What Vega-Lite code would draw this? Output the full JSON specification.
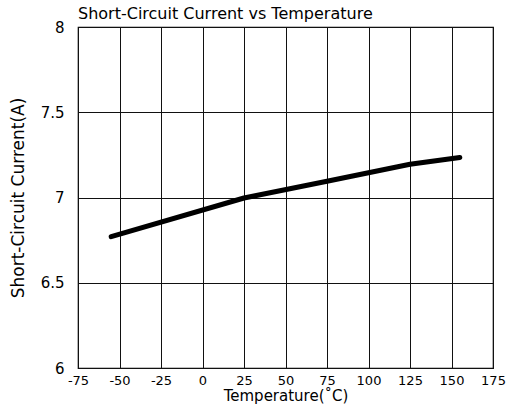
{
  "$schema": "https://vega.github.io/schema/vega-lite/v6.json",
  "autosize": "none",
  "width": 415,
  "height": 341,
  "padding": {"left": 78, "top": 27, "right": 13, "bottom": 40},
  "background": "white",
  "config": {
    "font": "DejaVu Sans",
    "view": {"stroke": "#000", "strokeWidth": 1.2},
    "axis": {"grid": true, "gridColor": "#111", "gridOpacity": 1, "gridWidth": 1, "domain": false, "ticks": false, "labelColor": "#000", "titleColor": "#000", "labelFont": "DejaVu Sans", "titleFont": "DejaVu Sans", "titleFontWeight": "normal"}
  },
  "title": {"text": "Short-Circuit Current vs Temperature", "anchor": "start", "frame": "group", "fontSize": 16, "fontWeight": "normal", "font": "DejaVu Sans", "color": "#000", "offset": 6, "baseline": "top", "dy": 8},
  "data": {"values": [
    {"temp": -55, "current": 6.77},
    {"temp": 25, "current": 6.997},
    {"temp": 75, "current": 7.095},
    {"temp": 125, "current": 7.195},
    {"temp": 155, "current": 7.235}
  ]},
  "mark": {"type": "line", "color": "#000", "strokeWidth": 5, "strokeCap": "round", "strokeJoin": "round"},
  "encoding": {
    "x": {"field": "temp", "type": "quantitative", "scale": {"domain": [-75, 175], "nice": false, "zero": false},
      "axis": {"values": [-75, -50, -25, 0, 25, 50, 75, 100, 125, 150, 175], "labelExpr": "'' + datum.value", "labelFontSize": 13, "labelPadding": 6, "title": "Temperature(˚C)", "titleFontSize": 15, "titlePadding": 1, "labelFlush": false, "labelOverlap": false}},
    "y": {"field": "current", "type": "quantitative", "scale": {"domain": [6, 8], "nice": false, "zero": false},
      "axis": {"values": [6, 6.5, 7, 7.5, 8], "format": "~g", "labelFontSize": 15, "labelPadding": 14, "title": "Short-Circuit Current(A)", "titleFontSize": 17, "titlePadding": 13, "labelFlush": false}}
  }
}
